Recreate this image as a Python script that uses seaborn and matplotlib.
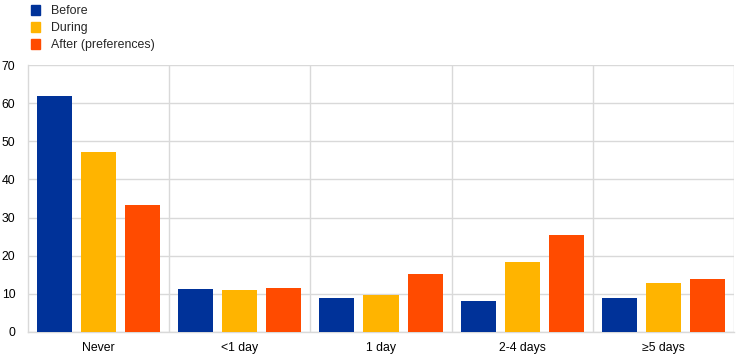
import numpy as np
import pandas as pd
import matplotlib
matplotlib.use("Agg")
import matplotlib.pyplot as plt
import seaborn as sns

# data
categories = ["Never", "<1 day", "1 day", "2-4 days", "\u22655 days"]
series_names = ["Before", "During", "After (preferences)"]
before = [61.9, 11.3, 9.0, 8.1, 9.0]
during = [47.1, 11.0, 9.8, 18.4, 12.9]
after = [33.4, 11.5, 15.1, 25.3, 14.0]
colors = ["#003299", "#FFB400", "#FF4B00"]

df = pd.DataFrame({
    "category": categories * 3,
    "series": np.repeat(series_names, len(categories)),
    "value": before + during + after,
})

sns.set_style("white")
plt.rcParams["font.family"] = ["Liberation Sans", "DejaVu Sans"]

fig = plt.figure(figsize=(7.44, 3.61), dpi=100)
ax = fig.add_axes([28 / 744, 1 - 332 / 361, 706 / 744, 267 / 361])

sns.barplot(data=df, x="category", y="value", hue="series", order=categories,
            hue_order=series_names, palette=colors, width=0.936, gap=0.205,
            saturation=1, edgecolor="none", legend=False, ax=ax, zorder=3)

ax.set_ylim(0, 70)
ax.set_xlim(-0.5, len(categories) - 0.5)
ax.set_yticks(range(0, 71, 10))
ax.yaxis.grid(True, color="#d9d9d9", linewidth=1, zorder=0)
for b in np.arange(0.5, len(categories), 1):
    ax.axvline(b, color="#d9d9d9", linewidth=1, zorder=0)
ax.set_xlabel("")
ax.set_ylabel("")
ax.tick_params(axis="both", length=0, labelsize=8.8, colors="black")
ax.tick_params(axis="x", pad=7)
ax.tick_params(axis="y", pad=9)
for side in ["top", "right"]:
    ax.spines[side].set_visible(False)
for side in ["left", "bottom"]:
    ax.spines[side].set_color("#d9d9d9")
    ax.spines[side].set_linewidth(1)

# legend at the top left, outside the axes
handles = [plt.Rectangle((0, 0), 1, 1, color=c) for c in colors]
fig.legend(handles, series_names, loc="upper left", bbox_to_anchor=(26 / 744, 1.0),
           frameon=False, fontsize=8.9, handlelength=0.75, handleheight=0.85,
           handletextpad=0.85, labelspacing=0.4, borderaxespad=0)

fig.savefig("out.png", dpi=100)
